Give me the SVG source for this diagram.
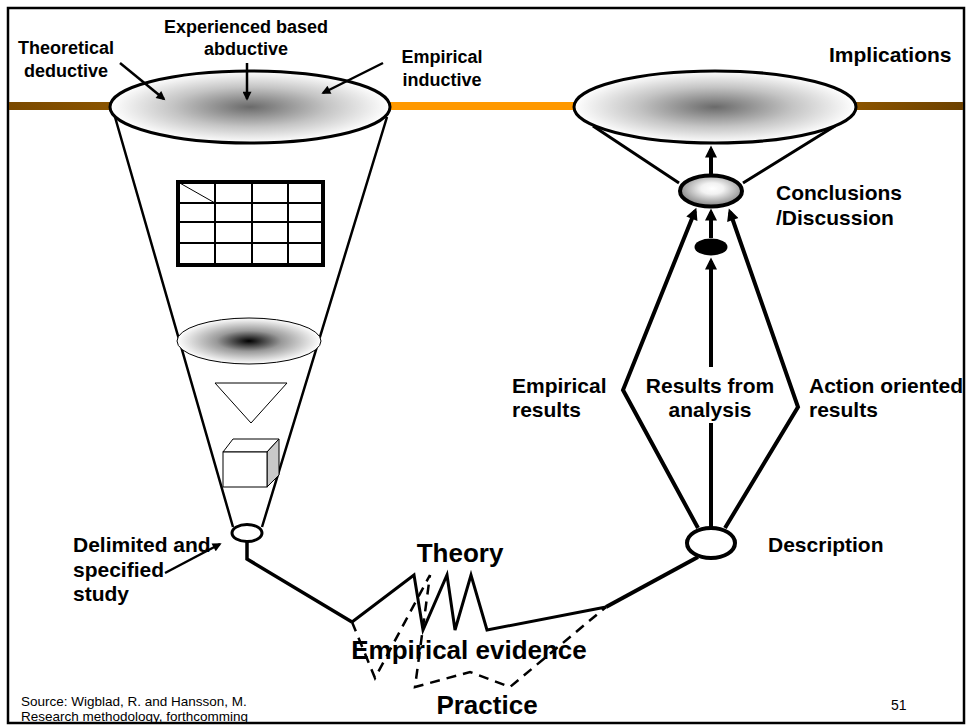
<svg xmlns="http://www.w3.org/2000/svg" width="967" height="726" viewBox="0 0 967 726">
<style>
text{font-family:"Liberation Sans",Arial,sans-serif;fill:#000}
.b18{font-size:18px;font-weight:bold}
.b21{font-size:21px;font-weight:bold}
.b26{font-size:26px;font-weight:bold}
.src{font-size:13.5px}
.ln{fill:none;stroke:#000;stroke-linejoin:miter}
.mid{text-anchor:middle}
</style>
<defs>
<radialGradient id="gTop" cx="0.5" cy="0.5" r="0.5">
<stop offset="0" stop-color="#6a6a6a"/>
<stop offset="0.55" stop-color="#c4c4c4"/>
<stop offset="1" stop-color="#ffffff"/>
</radialGradient>
<radialGradient id="gInner" cx="0.5" cy="0.5" r="0.5">
<stop offset="0" stop-color="#000"/>
<stop offset="0.45" stop-color="#999"/>
<stop offset="1" stop-color="#fff"/>
</radialGradient>
<radialGradient id="gConc" cx="0.52" cy="0.42" r="0.6">
<stop offset="0" stop-color="#fff"/>
<stop offset="0.3" stop-color="#f2f2f2"/>
<stop offset="1" stop-color="#7a7a7a"/>
</radialGradient>
<linearGradient id="gBrL" x1="0" y1="0" x2="1" y2="0">
<stop offset="0" stop-color="#7a4900"/>
<stop offset="1" stop-color="#8a5400"/>
</linearGradient>
<linearGradient id="gBrR" x1="0" y1="0" x2="1" y2="0">
<stop offset="0" stop-color="#8c5500"/>
<stop offset="1" stop-color="#6c4100"/>
</linearGradient>
<marker id="aS" viewBox="0 0 10 10" refX="8" refY="5" markerWidth="11" markerHeight="9" markerUnits="userSpaceOnUse" orient="auto">
<path d="M0,0 L10,5 L0,10 z" fill="#000"/>
</marker>
<marker id="aL" viewBox="0 0 10 10" refX="7" refY="5" markerWidth="14" markerHeight="12" markerUnits="userSpaceOnUse" orient="auto">
<path d="M0,0 L10,5 L0,10 z" fill="#000"/>
</marker>
</defs>

<rect x="8" y="8" width="956" height="715" fill="#fff" stroke="#000" stroke-width="2.5"/>

<g id="band">
<rect x="9" y="102" width="104" height="8" fill="url(#gBrL)"/>
<rect x="388" y="102" width="190" height="8" fill="#ff9900"/>
<rect x="852" y="102" width="111" height="8" fill="url(#gBrR)"/>
</g>

<g id="funnel">
<path class="ln" d="M115,117 L233,527 M387,117 L262,527" stroke-width="2.5"/>
<ellipse cx="250" cy="107" rx="140" ry="36" fill="url(#gTop)" stroke="#000" stroke-width="3"/>
</g>

<g id="table">
<rect x="178" y="182" width="145" height="83" fill="#fff" stroke="#000" stroke-width="4"/>
<path class="ln" stroke-width="2" d="M215,182 V265 M252,182 V265 M288,182 V265 M178,203 H323 M178,222 H323 M178,243 H323"/>
<path class="ln" stroke-width="1" d="M178,182 L215,203"/>
</g>

<g id="inner-ellipse">
<ellipse cx="249" cy="341" rx="72" ry="23" fill="url(#gInner)" stroke="#000" stroke-width="1"/>
</g>

<g id="triangle">
<path d="M215,383 L287,383 L251,423 z" fill="#fff" stroke="#000" stroke-width="1"/>
</g>

<g id="cube">
<path d="M223,452 L233,439 L279,439 L267,452 z" fill="#fff" stroke="#000" stroke-width="1"/>
<path d="M267,452 L279,439 L279,475 L267,487 z" fill="#c8c8c8" stroke="#000" stroke-width="1"/>
<rect x="223" y="452" width="44" height="35" fill="#fff" stroke="#000" stroke-width="1"/>
</g>

<g id="delimited-node">
<ellipse cx="247" cy="533" rx="15" ry="8.5" fill="#fff" stroke="#000" stroke-width="3"/>
</g>

<g id="implications-node">
<path class="ln" stroke-width="3" d="M593,126 L679,183 M835,126 L743,183"/>
<ellipse cx="715" cy="107" rx="141" ry="36" fill="url(#gTop)" stroke="#000" stroke-width="3"/>
</g>

<g id="conclusions-node">
<ellipse cx="711" cy="191" rx="31" ry="15.5" fill="url(#gConc)" stroke="#000" stroke-width="4"/>
</g>

<g id="analysis-node">
<ellipse cx="711" cy="247" rx="16.5" ry="8.5" fill="#000"/>
</g>

<g id="description-node">
<ellipse cx="711" cy="543" rx="24" ry="15" fill="#fff" stroke="#000" stroke-width="4"/>
</g>

<g id="connectors">
<path class="ln" stroke-width="2.5" d="M120,63 L164,99" marker-end="url(#aS)"/>
<path class="ln" stroke-width="2.5" d="M247,63 L247,99" marker-end="url(#aS)"/>
<path class="ln" stroke-width="2.5" d="M383,63 L323,93" marker-end="url(#aS)"/>
<path class="ln" stroke-width="2.5" d="M165,573 L220,544" marker-end="url(#aS)"/>
<path class="ln" stroke-width="4" d="M711,175 L711,149" marker-end="url(#aL)"/>
<path class="ln" stroke-width="4" d="M711,238 L711,212" marker-end="url(#aL)"/>
<path class="ln" stroke-width="4" d="M711,528 L711,423"/>
<path class="ln" stroke-width="4" d="M711,367 L711,261" marker-end="url(#aL)"/>
<path class="ln" stroke-width="4" d="M698,528 L623,390 L695,211" marker-end="url(#aL)"/>
<path class="ln" stroke-width="4" d="M725,528 L798,407 L730,212" marker-end="url(#aL)"/>
<path class="ln" stroke-width="3.5" d="M247,541 L247,559 L352,622"/>
<path class="ln" stroke-width="3" d="M352,622 L414,575 L423,630 L447,575 L455,630 L471,575 L487,630 L606,607"/>
<path class="ln" stroke-width="4" d="M606,607 L698,557"/>
<path class="ln" stroke-width="2.5" stroke-dasharray="10,7" d="M352,622 L375,678 L430,575 L415,687 L470,672 L510,687 L606,607"/>
</g>

<g id="labels">
<text class="b18 mid" x="66" y="54">Theoretical</text>
<text class="b18 mid" x="66" y="77">deductive</text>
<text class="b18 mid" x="246" y="33">Experienced based</text>
<text class="b18 mid" x="246" y="55">abductive</text>
<text class="b18 mid" x="442" y="63">Empirical</text>
<text class="b18 mid" x="442" y="86">inductive</text>
<text class="b21" x="829" y="62">Implications</text>
<text class="b21" x="776" y="200">Conclusions</text>
<text class="b21" x="776" y="225">/Discussion</text>
<text class="b21" x="512" y="393">Empirical</text>
<text class="b21" x="512" y="417">results</text>
<text class="b21 mid" x="710" y="393">Results from</text>
<text class="b21 mid" x="710" y="417">analysis</text>
<text class="b21" x="809" y="393">Action oriented</text>
<text class="b21" x="809" y="417">results</text>
<text class="b21" x="768" y="552">Description</text>
<text class="b21" x="73" y="552">Delimited and</text>
<text class="b21" x="73" y="577">specified</text>
<text class="b21" x="73" y="601">study</text>
<text class="b26 mid" x="460" y="562">Theory</text>
<text class="b26 mid" x="469" y="659">Empirical evidence</text>
<text class="b26 mid" x="487" y="714">Practice</text>
<text class="src" x="21" y="706">Source: Wigblad, R. and Hansson, M.</text>
<text class="src" x="21" y="721">Research methodology, forthcomming</text>
<text class="src" x="891" y="710" style="font-size:14px">51</text>
</g>
</svg>
